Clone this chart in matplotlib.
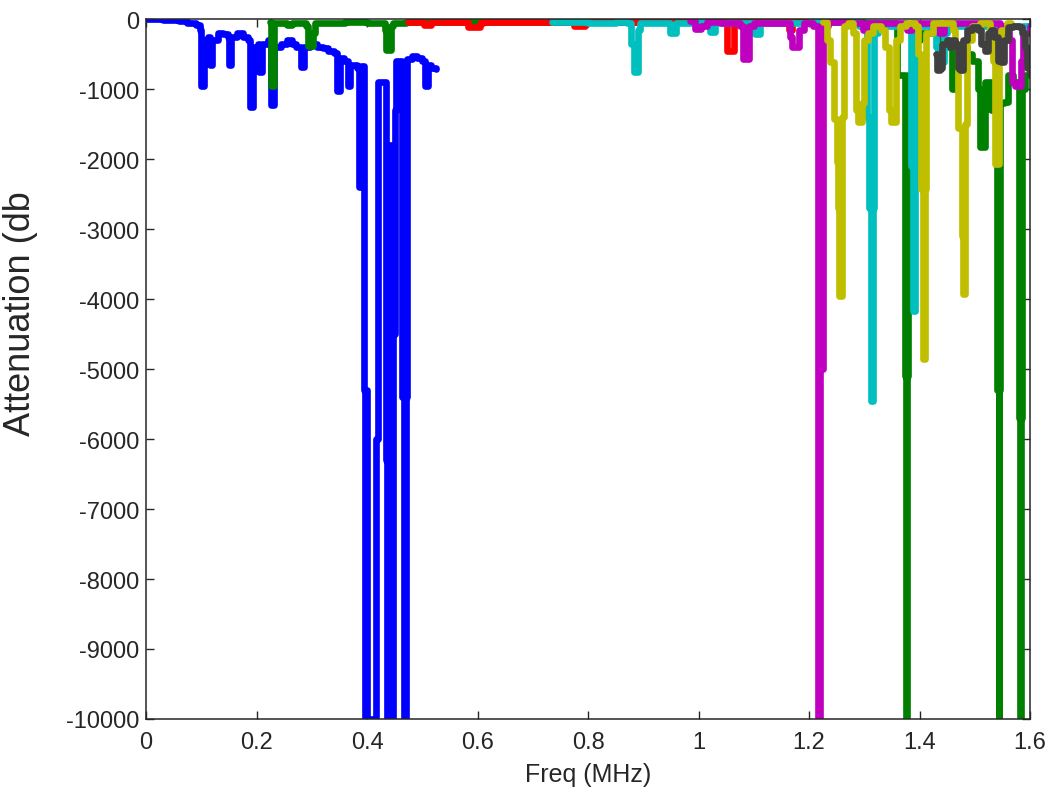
import matplotlib

matplotlib.use("Agg")
import matplotlib.pyplot as plt

# frecuencia (MHz) y atenuación (db) de cada tramo
# (cada valor se mantiene hasta la frecuencia siguiente)
blue_f = [0.000, 0.030, 0.060, 0.075, 0.090, 0.097, 0.100, 0.104, 0.112, 0.115,
          0.119, 0.130, 0.140, 0.148, 0.150, 0.154, 0.165, 0.175, 0.185, 0.188,
          0.193, 0.203, 0.205, 0.209, 0.220, 0.226, 0.231, 0.245, 0.255, 0.265,
          0.272, 0.280, 0.285, 0.297, 0.310, 0.320, 0.330, 0.340, 0.346, 0.351,
          0.358, 0.365, 0.370, 0.381, 0.385, 0.389, 0.394, 0.396, 0.399, 0.400,
          0.417, 0.419, 0.435, 0.437, 0.441, 0.443, 0.445, 0.447, 0.450, 0.453,
          0.464, 0.466, 0.471, 0.473, 0.482, 0.490, 0.500, 0.504, 0.510, 0.516,
          0.524]
blue_db = [0, -10, -30, -60, -80, -150, -960, -300, -250, -650,
           -300, -200, -220, -250, -650, -250, -200, -250, -300, -1250,
           -400, -350, -750, -350, -300, -1230, -400, -350, -300, -350,
           -400, -680, -400, -350, -400, -420, -450, -480, -1030, -550,
           -600, -950, -650, -700, -2400, -670, -5300, -10000, -5300, -10000,
           -6000, -900, -6300, -10000, -1800, -2570, -10000, -4500, -1300, -600,
           -5400, -10000, -5400, -570, -530, -550, -600, -950, -650, -700,
           -720]

green_f = [0.224, 0.227, 0.232, 0.245, 0.255, 0.265, 0.280, 0.290, 0.293, 0.302,
           0.306, 0.330, 0.360, 0.400, 0.420, 0.432, 0.435, 0.443, 0.447, 0.470,
           0.800, 1.300, 1.360, 1.373, 1.3755, 1.3765, 1.379, 1.386, 1.400, 1.440,
           1.452, 1.458, 1.466, 1.485, 1.495, 1.505, 1.510, 1.518, 1.530, 1.541,
           1.543, 1.544, 1.546, 1.553, 1.560, 1.570, 1.580, 1.582, 1.583, 1.585,
           1.590, 1.600]
green_db = [-40, -960, -60, -50, -80, -60, -50, -100, -380, -200,
            -60, -50, -40, -50, -60, -150, -440, -100, -50, -40,
            -40, -50, -800, -5100, -10000, -5100, -800, -300, -200, -300,
            -400, -1000, -400, -500, -600, -1000, -1830, -900, -1300, -5300,
            -10000, -5300, -1200, -1190, -800, -900, -5700, -10000, -5700, -1000,
            -800, -800]

red_f = [0.474, 0.503, 0.515, 0.582, 0.598, 0.604, 0.610, 0.770, 0.775, 0.795,
         1.052, 1.064, 1.164, 1.170, 1.250]
red_db = [-40, -80, -40, -110, -120, -60, -40, -40, -100, -40,
          -460, -40, -150, -40, -30]

cyan_f = [0.735, 0.800, 0.850, 0.870, 0.878, 0.884, 0.890, 0.894, 0.948, 0.960,
          0.990, 1.010, 1.020, 1.030, 1.103, 1.112, 1.200, 1.290, 1.305, 1.308,
          1.313, 1.315, 1.317, 1.325, 1.375, 1.384, 1.388, 1.392, 1.395, 1.420,
          1.430, 1.434, 1.444, 1.450, 1.535, 1.548, 1.600]
cyan_db = [-40, -60, -40, -60, -350, -760, -150, -60, -200, -60,
           -40, -80, -190, -60, -210, -60, -40, -100, -1400, -2700,
           -5450, -2700, -200, -100, -100, -2100, -4170, -2100, -100, -150,
           -400, -620, -200, -100, -200, -100, -80]

magenta_f = [0.985, 0.993, 1.005, 1.015, 1.040, 1.075, 1.081, 1.091, 1.100, 1.160,
             1.166, 1.170, 1.181, 1.190, 1.207, 1.2155, 1.217, 1.2205, 1.2245, 1.235,
             1.270, 1.298, 1.306, 1.378, 1.386, 1.435, 1.445, 1.545, 1.553, 1.562,
             1.568, 1.572, 1.583, 1.588, 1.600]
magenta_db = [-30, -140, -100, -40, -50, -100, -570, -100, -50, -60,
              -250, -400, -150, -60, -100, -5000, -10000, -5000, -100, -40,
              -60, -150, -60, -150, -60, -200, -60, -200, -100, -300,
              -900, -960, -600, -200, -100]

yellow_f = [1.226, 1.232, 1.238, 1.246, 1.250, 1.252, 1.255, 1.260, 1.264, 1.270,
            1.280, 1.285, 1.288, 1.296, 1.300, 1.306, 1.315, 1.330, 1.338, 1.344,
            1.348, 1.358, 1.364, 1.375, 1.392, 1.398, 1.403, 1.407, 1.410, 1.412,
            1.425, 1.460, 1.465, 1.470, 1.476, 1.479, 1.483, 1.486, 1.495, 1.510,
            1.528, 1.533, 1.537, 1.543, 1.548, 1.558, 1.565]
yellow_db = [-40, -300, -620, -1430, -2040, -2700, -3950, -1400, -100, -60,
             -200, -1300, -1470, -1200, -300, -200, -100, -150, -400, -1300,
             -1470, -300, -100, -60, -100, -500, -2430, -4860, -2430, -200,
             -60, -150, -400, -1560, -3100, -3930, -1500, -300, -100, -60,
             -200, -600, -2070, -500, -150, -60, -60]

gray_f = [1.430, 1.432, 1.437, 1.440, 1.450, 1.456, 1.460, 1.465, 1.470, 1.474,
          1.478, 1.485, 1.495, 1.505, 1.512, 1.518, 1.524, 1.530, 1.535, 1.542,
          1.548, 1.552, 1.560, 1.570, 1.580, 1.585, 1.590, 1.595, 1.600]
gray_db = [-500, -730, -700, -350, -300, -400, -300, -350, -700, -730,
           -300, -160, -120, -150, -350, -450, -200, -150, -250, -600,
           -620, -300, -120, -100, -120, -200, -400, -700, -780]

x_ticks = [0, 0.2, 0.4, 0.6, 0.8, 1.0, 1.2, 1.4, 1.6]
x_labels = ["0", "0.2", "0.4", "0.6", "0.8", "1", "1.2", "1.4", "1.6"]
y_ticks = list(range(-10000, 1, 1000))

SERIES = [
    (blue_f, blue_db, (0, 0, 1)),
    (green_f, green_db, (0, 0.5, 0)),
    (red_f, red_db, (1, 0, 0)),
    (cyan_f, cyan_db, (0, 0.75, 0.75)),
    (magenta_f, magenta_db, (0.75, 0, 0.75)),
    (yellow_f, yellow_db, (0.75, 0.75, 0)),
    (gray_f, gray_db, (0.25, 0.25, 0.25)),
]

plt.rcParams["font.family"] = ["Liberation Sans", "DejaVu Sans"]
plt.rcParams["axes.unicode_minus"] = False

fig = plt.figure(figsize=(10.53, 8.04), dpi=100)
ax = fig.add_axes([0.1387, 0.1045, 0.8395, 0.8705])

for f, db, color in SERIES:
    ax.plot(f, db, color=color, lw=4.8, drawstyle="steps-post",
            solid_joinstyle="round", solid_capstyle="round")

ax.set_xlim(0, 1.6)
ax.set_ylim(-10000, 0)
ax.set_xticks(x_ticks, x_labels)
ax.set_yticks(y_ticks)
ax.tick_params(direction="in", top=True, right=True, length=6, width=1,
               labelsize=17, color="#262626", labelcolor="#262626")
ax.tick_params(axis="x", pad=9)
ax.tick_params(axis="y", pad=5)
for spine in ax.spines.values():
    spine.set_linewidth(1.1)
    spine.set_color("#262626")

ax.set_xlabel("Freq (MHz)", fontsize=18, color="#262626", labelpad=6)
ax.set_ylabel("Attenuation (db", fontsize=26, color="#262626")
ax.yaxis.set_label_coords(-0.122, 0.58)

fig.savefig("out.png", dpi=100, facecolor="white")
